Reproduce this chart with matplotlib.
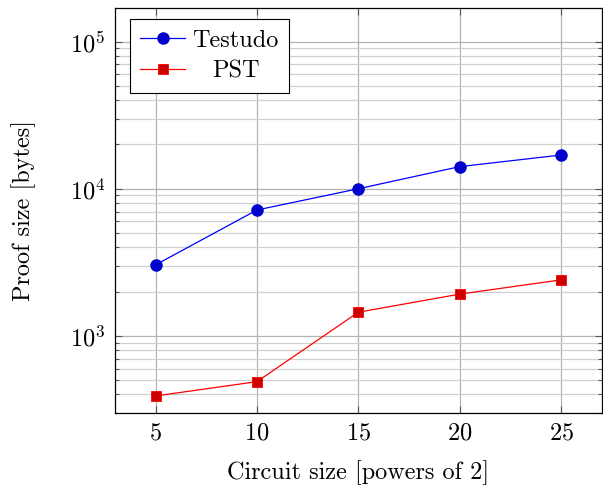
import matplotlib
matplotlib.use("Agg")
import matplotlib.pyplot as plt
from matplotlib.ticker import LogLocator, NullFormatter

plt.rcParams['font.family'] = ['cmr10', 'DejaVu Serif']
plt.rcParams['mathtext.fontset'] = 'cm'
plt.rcParams['axes.formatter.use_mathtext'] = True

# data
circuit = [5, 10, 15, 20, 25]
testudo = [3040, 7170, 10000, 14130, 16950]
pst = [391, 489, 1449, 1923, 2404]
xticks = [5, 10, 15, 20, 25]

fig = plt.figure(figsize=(6.03, 4.86), dpi=100)
ax = fig.add_axes([0.1907, 0.150, 0.807, 0.8335])

ax.plot(circuit, testudo, color='#0000ff', lw=0.9, marker='o', ms=8,
        mfc='#0000cc', mec='#0000cc', label='Testudo', zorder=3)
ax.plot(circuit, pst, color='#ff0000', lw=0.9, marker='s', ms=7.5,
        mfc='#cc0000', mec='#ff0000', mew=0.6, label='PST', zorder=3)

ax.set_yscale('log')
ax.set_xlim(3, 27)
ax.set_ylim(299, 1.69e5)
ax.set_xticks(xticks)
ax.yaxis.set_major_locator(LogLocator(base=10))
ax.yaxis.set_minor_locator(LogLocator(base=10, subs=range(2, 10)))
ax.yaxis.set_minor_formatter(NullFormatter())

ax.grid(True, which='major', color='#b3b3b3', lw=0.9)
ax.grid(True, which='minor', axis='y', color='#d0d0d0', lw=0.9)
ax.set_axisbelow(True)

ax.tick_params(which='both', direction='in', top=True, right=True,
               labelsize=17.5, colors='#555555', labelcolor='black')
ax.tick_params(which='major', length=5, width=0.8, pad=7)
ax.tick_params(which='minor', length=3, width=0.8)
for s in ax.spines.values():
    s.set_linewidth(0.9)

ax.set_xlabel('Circuit size [powers of 2]', fontsize=17.5, labelpad=11)
ax.set_ylabel('Proof size [bytes]', fontsize=17.5, labelpad=24)

leg = ax.legend(loc='upper left', fontsize=17.5, fancybox=False, framealpha=1,
                edgecolor='black', borderpad=0.42, handlelength=1.85,
                handletextpad=0.3, labelspacing=0.35, borderaxespad=0,
                bbox_to_anchor=(0.031, 0.972))
leg.get_frame().set_linewidth(0.8)

# centre the legend entries like pgfplots does
fig.canvas.draw()
r = fig.canvas.get_renderer()
texts = leg.get_texts()
widths = [t.get_window_extent(r).width for t in texts]
wmax = max(widths)
for t, w in zip(texts, widths):
    t.set_x((wmax - w) / 2)

fig.savefig('out.png', dpi=100)
